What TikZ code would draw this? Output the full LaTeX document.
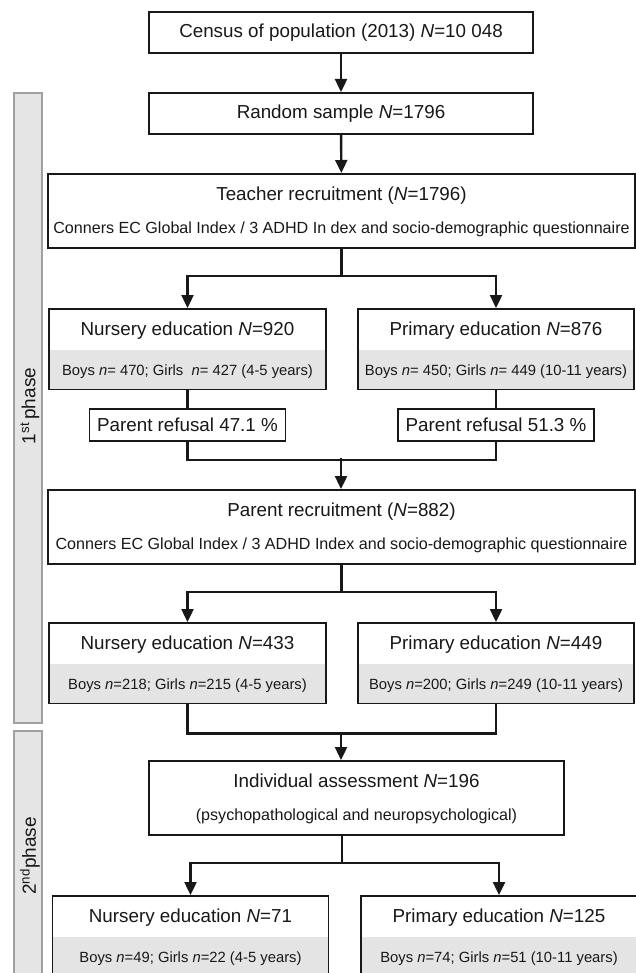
\documentclass[tikz,border=0pt]{standalone}
\usepackage{xcolor}
\usepackage{fontspec}
\setmainfont{Liberation Sans}
\usepackage{tikz}
\usetikzlibrary{arrows.meta, calc}

\definecolor{ink}{RGB}{24,24,24}
\definecolor{bandgrey}{RGB}{228,228,228}
\definecolor{barfill}{RGB}{229,229,229}
\definecolor{bardraw}{RGB}{160,160,160}

\newcommand{\titlefont}{\fontsize{18.8}{22}\selectfont}
\newcommand{\subfont}{\fontsize{16.1}{19}\selectfont}
\newcommand{\bandfont}{\fontsize{14.8}{17}\selectfont}
\renewcommand{\arraystretch}{0}

\begin{document}
\begin{tikzpicture}[x=1pt, y=-1pt,
        box/.style={draw=ink, line width=1.8pt, fill=white, inner sep=0pt, font=\titlefont, text=ink},
        band/.style={path picture={\fill[bandgrey] ([yshift=39pt]path picture bounding box.south west) rectangle (path picture bounding box.south east);}},
        arr/.style={draw=ink, line width=2.4pt, -{Triangle[length=13pt,width=12pt]}},
        link/.style={draw=ink, line width=2.4pt},
        phasebar/.style={draw=bardraw, fill=barfill, line width=2.2pt},
        phaselabel/.style={rotate=90, font=\fontsize{19}{22}\selectfont, text=ink}]
        \useasboundingbox (0,0) rectangle (636,973);
        \clip (0,0) rectangle (636,973);

        % phases
        \draw[phasebar] (14,93) rectangle (42,723);
        \draw[phasebar] (14,731) rectangle (42,990);
        \node[phaselabel] (phase1) at (30,406) {1\textsuperscript{st}\,phase};
        \node[phaselabel] (phase2) at (30,856) {2\textsuperscript{nd}phase};

        % sampling
        \node[box, minimum width=384, minimum height=41, anchor=north] (census) at (341,11) {Census of population (2013) \textit{N}=10~048};
        \node[box, minimum width=384, minimum height=41, anchor=north] (random) at (341,92) {Random sample \textit{N}=1796};
        \node[box, minimum width=587, anchor=north] (teacher) at (341.5,173) {
            \begin{tabular}{@{}c@{}}
                \rule[-8pt]{0pt}{35pt}Teacher recruitment (\textit{N}=1796)\\
                \rule[-14pt]{0pt}{39pt}\subfont Conners EC Global Index / 3 ADHD In dex and socio-demographic questionnaire
            \end{tabular}
        };

        \begin{scope}[shift={(0,308)}]
            \node[box, band, minimum width=277, anchor=north] (nur1) at (187.5,0) {
                \begin{tabular}{@{}c@{}}
                    \rule[-14.5pt]{0pt}{41.5pt}Nursery education \textit{N}=920\\
                    \rule[-13.5pt]{0pt}{39pt}\bandfont Boys \textit{n}= 470; Girls~~\textit{n}= 427 (4-5 years)
                \end{tabular}
            };
            \node[box, band, minimum width=276, anchor=north] (pri1) at (496,0) {
                \begin{tabular}{@{}c@{}}
                    \rule[-14.5pt]{0pt}{41.5pt}Primary education \textit{N}=876\\
                    \rule[-13.5pt]{0pt}{39pt}\bandfont Boys \textit{n}= 450; Girls \textit{n}= 449 (10-11 years)
                \end{tabular}
            };
            \node[box, minimum width=196, minimum height=32, anchor=north] (ref1) at (187.5,100) {Parent refusal 47.1 \%};
            \node[box, minimum width=196, minimum height=32, anchor=north] (ref2) at (496,100) {Parent refusal 51.3 \%};
        \end{scope}

        \node[box, minimum width=587, anchor=north] (parent) at (341.5,489) {
            \begin{tabular}{@{}c@{}}
                \rule[-8pt]{0pt}{35pt}Parent recruitment (\textit{N}=882)\\
                \rule[-14pt]{0pt}{39pt}\subfont Conners EC Global Index / 3 ADHD Index and socio-demographic questionnaire
            \end{tabular}
        };

        \begin{scope}[shift={(0,622)}]
            \node[box, band, minimum width=277, anchor=north] (nur2) at (187.5,0) {
                \begin{tabular}{@{}c@{}}
                    \rule[-14.5pt]{0pt}{41.5pt}Nursery education \textit{N}=433\\
                    \rule[-13.5pt]{0pt}{39pt}\bandfont Boys \textit{n}=218; Girls \textit{n}=215 (4-5 years)
                \end{tabular}
            };
            \node[box, band, minimum width=276, anchor=north] (pri2) at (496,0) {
                \begin{tabular}{@{}c@{}}
                    \rule[-14.5pt]{0pt}{41.5pt}Primary education \textit{N}=449\\
                    \rule[-13.5pt]{0pt}{39pt}\bandfont Boys \textit{n}=200; Girls \textit{n}=249 (10-11 years)
                \end{tabular}
            };
        \end{scope}

        \node[box, minimum width=415, anchor=north] (indiv) at (356.5,760) {
            \begin{tabular}{@{}c@{}}
                \rule[-8pt]{0pt}{35pt}Individual assessment \textit{N}=196\\
                \rule[-14pt]{0pt}{39pt}\subfont (psychopathological and neuropsychological)
            \end{tabular}
        };

        \begin{scope}[shift={(3,895)}]
            \node[box, band, minimum width=276, anchor=north] (nur3) at (187.5,0) {
                \begin{tabular}{@{}c@{}}
                    \rule[-14.5pt]{0pt}{41.5pt}Nursery education \textit{N}=71\\
                    \rule[-13.5pt]{0pt}{39pt}\bandfont Boys \textit{n}=49; Girls \textit{n}=22 (4-5 years)
                \end{tabular}
            };
            \node[box, band, minimum width=276, anchor=north] (pri3) at (496,0) {
                \begin{tabular}{@{}c@{}}
                    \rule[-14.5pt]{0pt}{41.5pt}Primary education \textit{N}=125\\
                    \rule[-13.5pt]{0pt}{39pt}\bandfont Boys \textit{n}=74; Girls \textit{n}=51 (10-11 years)
                \end{tabular}
            };
        \end{scope}

        % connectors
        \draw[arr] (census) -- (random);
        \draw[arr] (random) -- (teacher);
        \draw[arr] (teacher.south) -- ++(0,27) -| (nur1.north);
        \draw[arr] (teacher.south) -- ++(0,27) -| (pri1.north);
        \draw[link] (nur1) -- (ref1);
        \draw[link] (pri1) -- (ref2);
        \draw[link] (ref1.south) -- ++(0,18) -| (ref2.south);
        \coordinate (join1) at (341,458);
        \draw[arr] (join1) -- (join1 |- parent.north);
        \draw[arr] (parent.south) -- ++(0,27) -| (nur2.north);
        \draw[arr] (parent.south) -- ++(0,27) -| (pri2.north);
        \draw[link] (nur2.south) -- ++(0,29) -| (pri2.south);
        \coordinate (join2) at (341,732);
        \draw[arr] (join2) -- (join2 |- indiv.north);
        \coordinate (split3) at (342,863);
        \draw[link] (split3 |- indiv.south) -- (split3);
        \draw[arr] (split3) -| (nur3.north);
        \draw[arr] (split3) -| (pri3.north);
\end{tikzpicture}
\end{document}
